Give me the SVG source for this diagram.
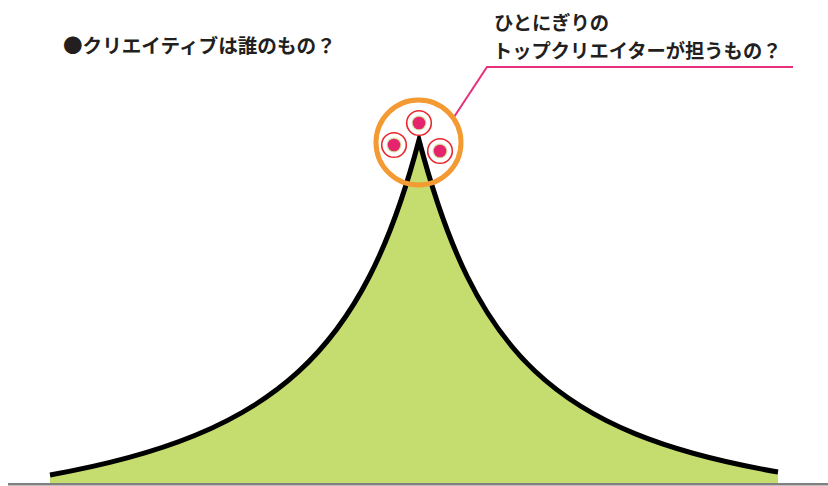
<svg xmlns="http://www.w3.org/2000/svg" width="828" height="486" viewBox="0 0 828 486">
<style>
.t{font-family:"Noto Sans CJK JP","Noto Sans",sans-serif;font-weight:bold;font-size:19.3px;fill:#231f20}
.ring{fill:#fff;stroke:#e8282e;stroke-width:1.6}
.halo{fill:#d5e0a0}
.dot{fill:#e6246e}
</style>
<rect width="828" height="486" fill="#fff"/>
<g id="mountain">
<path d="M50,475 C275,434.5 363,353 419,140 C475,353 553,433 778,472 L778,483 L50,483 Z" fill="#c5dc6e"/>
<path d="M50,475 C275,434.5 363,353 419,140 C475,353 553,433 778,472" fill="none" stroke="#000" stroke-width="5" stroke-linejoin="miter"/>
</g>
<g id="baseline"><line x1="8" y1="484.3" x2="828" y2="484.3" stroke="#808080" stroke-width="2.4"/></g>
<g id="connectors">
<polyline points="454,117 487,67 793,67" fill="none" stroke="#e8307a" stroke-width="2"/>
</g>
<g id="creators">
<circle cx="419" cy="123" r="12.3" class="ring"/><circle cx="419" cy="123" r="7.5" class="halo"/><circle cx="419" cy="123" r="6.3" class="dot"/>
<circle cx="394" cy="145" r="12.3" class="ring"/><circle cx="394" cy="145" r="7.5" class="halo"/><circle cx="394" cy="145" r="6.3" class="dot"/>
<circle cx="440" cy="151" r="12.3" class="ring"/><circle cx="440" cy="151" r="7.5" class="halo"/><circle cx="440" cy="151" r="6.3" class="dot"/>
</g>
<g id="highlight"><circle cx="418.5" cy="142.5" r="42.5" fill="none" stroke="#f39a32" stroke-width="5"/></g>
<g id="title"><text x="63" y="53" class="t" style="font-size:19.6px">●クリエイティブは誰のもの？</text></g>
<g id="label"><text x="494" y="30" class="t">ひとにぎりの</text><text x="493" y="58" class="t">トップクリエイターが担うもの？</text></g>
</svg>
